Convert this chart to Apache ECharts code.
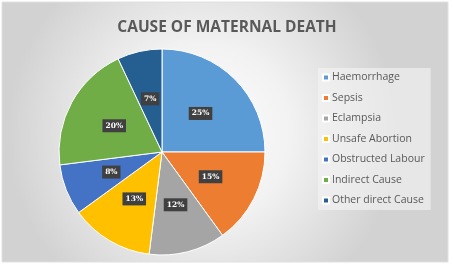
<!DOCTYPE html>
<html>
<head>
<meta charset="utf-8">
<script src="https://cdn.jsdelivr.net/npm/echarts@6/dist/echarts.min.js"></script>
<style>
  html, body { margin: 0; padding: 0; background: #fff; }
  #chart { width: 453px; height: 268px; }
</style>
</head>
<body>
<div id="chart"></div>
<script>
// data
var causes = ['Haemorrhage', 'Sepsis', 'Eclampsia', 'Unsafe Abortion', 'Obstructed Labour', 'Indirect Cause', 'Other direct Cause'];
var shares = [25, 15, 12, 13, 8, 20, 7];
var colors = ['#5B9BD5', '#ED7D31', '#A5A5A5', '#FFC000', '#4472C4', '#70AD47', '#255E91'];

var pieData = [];
for (var i = 0; i < causes.length; i++) {
  pieData.push({ name: causes[i], value: shares[i], itemStyle: { color: colors[i] } });
}

var chart = echarts.init(document.getElementById('chart'));
chart.setOption({
  animation: false,
  graphic: [{
    type: 'rect', z: -10, silent: true,
    shape: { x: 2, y: 2, width: 446, height: 260 },
    style: {
      fill: new echarts.graphic.RadialGradient(0.45, 0.5, 0.75, [
        { offset: 0, color: '#ffffff' },
        { offset: 0.45, color: '#f2f2f2' },
        { offset: 1, color: '#d2d2d2' }
      ]),
      stroke: '#e0e0e0', lineWidth: 1
    }
  }],
  title: {
    text: 'CAUSE OF MATERNAL DEATH',
    left: 222, textAlign: 'center', top: 15,
    textStyle: { fontFamily: 'Open Sans', fontSize: 15.5, fontWeight: 'bold', color: '#595959' }
  },
  legend: {
    orient: 'vertical',
    left: 318, top: 68,
    itemWidth: 6, itemHeight: 6, itemGap: 9.5,
    icon: 'rect',
    backgroundColor: 'rgba(245,245,245,0.6)',
    padding: [4, 6, 4, 4],
    textStyle: { fontFamily: 'Open Sans', fontSize: 10.5, color: '#595959', padding: [0, 0, 0, -2] },
    data: causes
  },
  series: [{
    type: 'pie',
    center: [162, 152],
    radius: 103,
    startAngle: 90,
    clockwise: true,
    itemStyle: { borderColor: '#ffffff', borderWidth: 1 },
    label: {
      position: 'inside',
      formatter: '{c}%',
      fontFamily: 'DejaVu Serif',
      fontSize: 7.5,
      fontWeight: 'bold',
      color: '#ffffff',
      backgroundColor: '#404040',
      padding: [3, 3, 2, 3]
    },
    labelLine: { show: false },
    data: pieData
  }]
});
</script>
</body>
</html>
